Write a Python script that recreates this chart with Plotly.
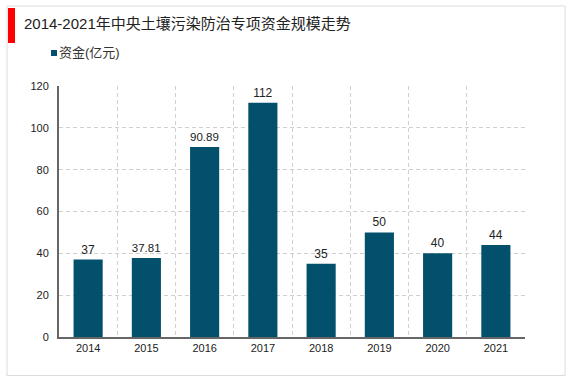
import plotly.graph_objects as go

years = ["2014", "2015", "2016", "2017", "2018", "2019", "2020", "2021"]
funds = [37, 37.81, 90.89, 112, 35, 50, 40, 44]
labels = ["37", "37.81", "90.89", "112", "35", "50", "40", "44"]
series_name = "资金(亿元)"
title_text = "2014-2021年中央土壤污染防治专项资金规模走势"

BAR = "#03506c"
FONT = "Liberation Sans, Arial, Noto Sans CJK SC, sans-serif"
GRID = "#d0d0d0"
DASH = "4px,3px"
xpos = list(range(len(years)))

fig = go.Figure()
fig.add_trace(go.Bar(
    x=xpos, y=funds, text=labels, textposition="outside",
    textfont=dict(size=12, color="#222", family=FONT),
    marker=dict(color=BAR, line=dict(width=0)), width=0.5,
    showlegend=False, cliponaxis=False, name=series_name,
))

fig.update_layout(
    width=567, height=378,
    margin=dict(l=59, r=42, t=86, b=41),
    paper_bgcolor="white", plot_bgcolor="white",
    font=dict(family=FONT, size=11, color="#333"),
    showlegend=False,
    xaxis=dict(
        range=[-0.5, 7.5], tickmode="array", tickvals=xpos, ticktext=years,
        showgrid=False, zeroline=False, showline=True, linecolor="#666", linewidth=2,
        ticks="", tickfont=dict(size=11, color="#222"),
        minor=dict(tickmode="array", tickvals=[i + 0.5 for i in range(7)],
                   showgrid=True, gridcolor=GRID, griddash=DASH, gridwidth=1, ticks=""),
        fixedrange=True,
    ),
    yaxis=dict(
        range=[0, 120], dtick=20, tick0=0,
        showgrid=True, gridcolor=GRID, griddash=DASH, gridwidth=1,
        zeroline=False, showline=True, linecolor="#666", linewidth=2,
        ticks="", tickfont=dict(size=11, color="#222"), ticklabelstandoff=6,
        fixedrange=True,
    ),
)

# frame, title accent and legend key in pixel-derived paper coordinates
pw, ph = 567 - 59 - 42, 378 - 86 - 41
def px(x):
    return (x - 59) / pw
def py(y):
    return (378 - 41 - y) / ph

frame = "#dcdcdc"
fig.add_shape(type="line", xref="paper", yref="paper", x0=px(7), x1=px(565), y0=py(6), y1=py(6), line=dict(color=frame, width=1))
fig.add_shape(type="line", xref="paper", yref="paper", x0=px(7), x1=px(7), y0=py(6), y1=py(376), line=dict(color=frame, width=1))
fig.add_shape(type="line", xref="paper", yref="paper", x0=px(565), x1=px(565), y0=py(6), y1=py(376), line=dict(color=frame, width=1))
fig.add_shape(type="line", xref="paper", yref="paper", x0=px(7), x1=px(565), y0=py(375.5), y1=py(375.5), line=dict(color=frame, width=1))
fig.add_shape(type="rect", xref="paper", yref="paper", x0=px(8), x1=px(15), y0=py(43), y1=py(8), fillcolor="#ff0000", line=dict(width=0))

# legend key
fig.add_shape(type="rect", xref="paper", yref="paper", x0=px(51), x1=px(57), y0=py(56), y1=py(50), fillcolor=BAR, line=dict(width=0))
fig.add_annotation(text=series_name, xref="paper", yref="paper", x=px(57), y=py(53),
                   xanchor="left", yanchor="middle", showarrow=False,
                   font=dict(size=13, color="#333", family=FONT))

fig.add_annotation(text=title_text, xref="paper", yref="paper", x=px(22), y=py(23),
                   xanchor="left", yanchor="middle", showarrow=False,
                   font=dict(size=15, color="#222", family=FONT))

fig.write_html("out.html", config={"displayModeBar": False, "staticPlot": True},
               post_script="document.body.style.margin='0';document.body.style.overflow='hidden';")
